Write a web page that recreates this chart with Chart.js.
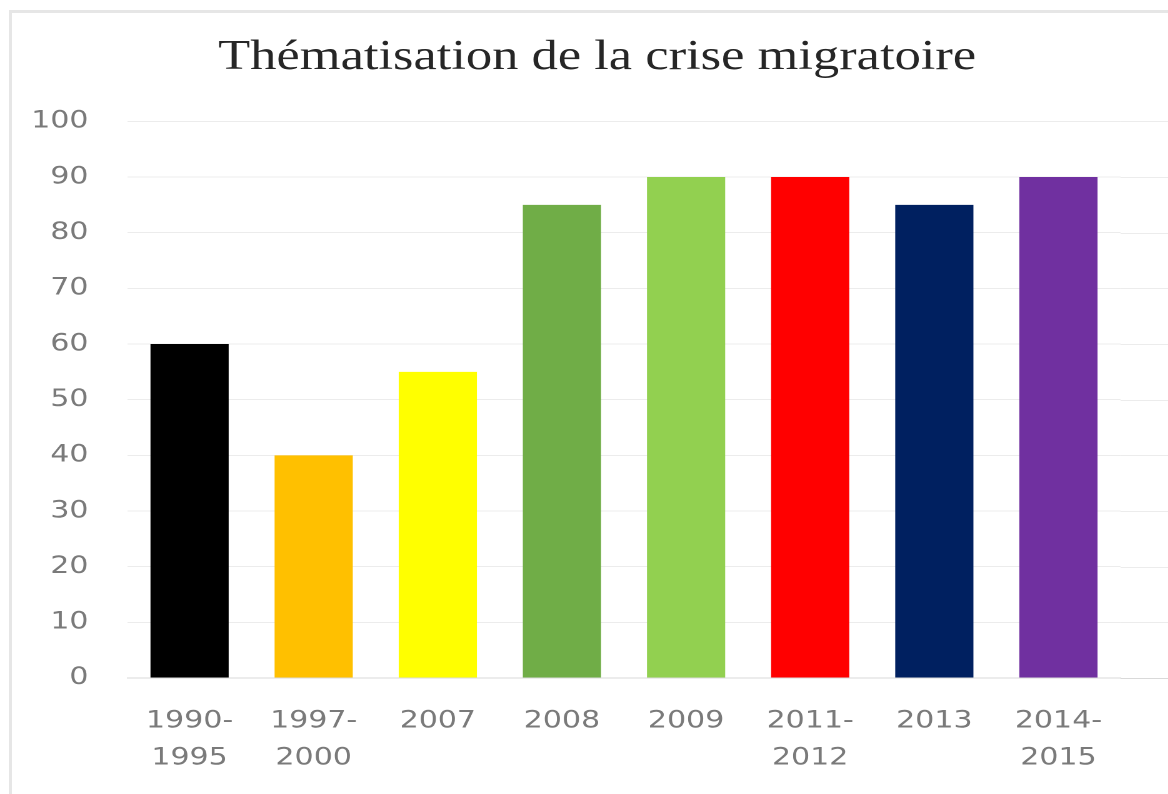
<!DOCTYPE html>
<html>
<head>
<meta charset="utf-8">
<script src="https://cdn.jsdelivr.net/npm/chart.js@4.4.1/dist/chart.umd.min.js"></script>
<style>
    html, body { margin: 0; padding: 0; background: #fff; overflow: hidden; }
    #frame {
        position: absolute; left: 9px; top: 10px; width: 1300px; height: 900px;
        border-left: 3px solid #e6e6e6; border-top: 3px solid #e6e6e6;
    }
    /* the reference is stretched horizontally, so the canvas is too */
    #wrap {
        position: absolute; left: 0; top: 0; width: 934.4px; height: 810px;
        transform: scaleX(1.25); transform-origin: 0 0;
    }
</style>
</head>
<body>
<div id="frame"></div>
<div id="wrap"><canvas id="chart"></canvas></div>
<script>
const categories = [["1990-", "1995"], ["1997-", "2000"], "2007", "2008", "2009", ["2011-", "2012"], "2013", ["2014-", "2015"]];
const values = [60, 40, 55, 85, 90, 90, 85, 90];
const barColors = ["#000000", "#FFC000", "#FFFF00", "#70AD47", "#92D050", "#FF0000", "#002060", "#7030A0"];
const yMin = 0, yMax = 100, yStep = 10;
const titleText = "Thématisation de la crise migratoire";

const tickColor = "#7a7a7a";
const gridColor = "#ececec";

// gridlines in the picture run past the last category to the right edge
const extendGrid = {
    id: "extendGrid",
    beforeDatasetsDraw(chart) {
        const { ctx, chartArea } = chart;
        const y = chart.scales.y;
        ctx.save();
        ctx.lineWidth = 1;
        y.ticks.forEach((t) => {
            const py = Math.round(y.getPixelForValue(t.value)) + 0.5;
            ctx.strokeStyle = t.value === yMin ? "#d9d9d9" : gridColor;
            ctx.beginPath();
            ctx.moveTo(chartArea.right, py);
            ctx.lineTo(chart.width, py);
            ctx.stroke();
        });
        ctx.restore();
    }
};

new Chart(document.getElementById("chart"), {
    type: "bar",
    data: {
        labels: categories,
        datasets: [{
            data: values,
            backgroundColor: barColors,
            borderWidth: 0,
            barPercentage: 0.63,
            categoryPercentage: 1
        }]
    },
    options: {
        responsive: true,
        maintainAspectRatio: false,
        animation: false,
        devicePixelRatio: 2,
        layout: { padding: { left: 59, right: 38, top: 0, bottom: 8 } },
        plugins: {
            legend: { display: false },
            tooltip: { enabled: false },
            title: {
                display: true,
                text: titleText,
                color: "#262626",
                font: { family: "'Liberation Serif', 'Times New Roman', serif", size: 42, weight: "normal" },
                padding: { top: 33, bottom: 38 }
            }
        },
        scales: {
            x: {
                grid: { display: false, drawTicks: false },
                border: { display: true, color: "#d9d9d9", width: 1 },
                ticks: {
                    color: tickColor,
                    padding: 25,
                    maxRotation: 0,
                    autoSkip: false,
                    font: { family: "'DejaVu Sans', sans-serif", size: 24, lineHeight: "37px" }
                }
            },
            y: {
                min: yMin,
                max: yMax,
                afterFit: (scale) => { scale.width = 43; },
                grid: { color: gridColor, drawTicks: false },
                border: { display: false },
                ticks: {
                    stepSize: yStep,
                    color: tickColor,
                    // mirrored so the labels are not clipped to the narrow axis box,
                    // then pulled back left of the plot, right-aligned
                    mirror: true,
                    crossAlign: "far",
                    padding: -77,
                    font: { family: "'DejaVu Sans', sans-serif", size: 24 }
                }
            }
        }
    },
    plugins: [extendGrid]
});
</script>
</body>
</html>
